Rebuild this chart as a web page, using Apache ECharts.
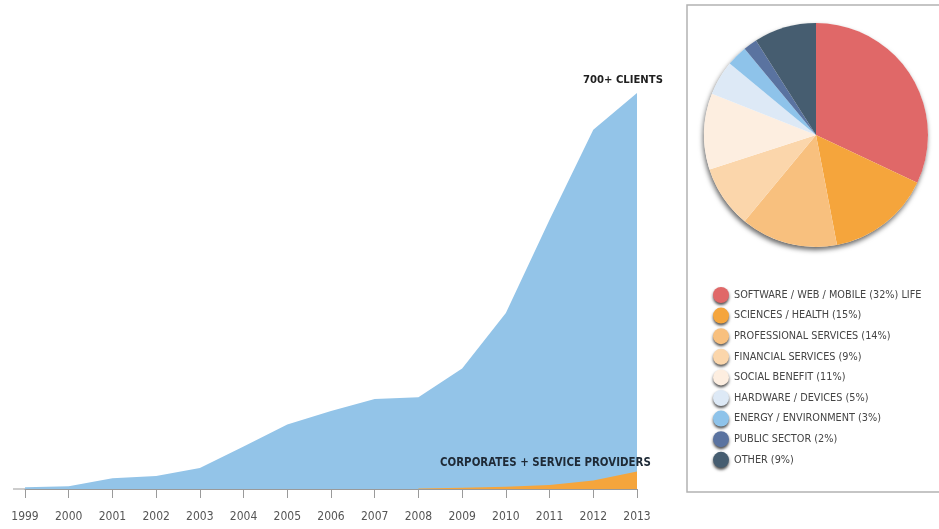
<!DOCTYPE html>
<html>
<head>
<meta charset="utf-8">
<title>Clients</title>
<script src="https://cdn.jsdelivr.net/npm/echarts@6/dist/echarts.min.js"></script>
<style>
  html, body { margin: 0; padding: 0; background: #fff; }
  #main { width: 939px; height: 529px; }
</style>
</head>
<body>
<div id="main"></div>
<script>
// years on the x axis
var years = ['1999', '2000', '2001', '2002', '2003', '2004', '2005', '2006',
  '2007', '2008', '2009', '2010', '2011', '2012', '2013'];
// all clients (blue area)
var clients = [3, 5, 19, 23, 37, 75, 114, 138, 159, 162, 213, 311, 476, 635, 700];
// corporates + service providers (orange area), starts in 2008
var corporates = [null, null, null, null, null, null, null, null, null, 1, 2, 4, 7, 15, 31];

// sectors in the pie
var sectors = [
  'SOFTWARE / WEB / MOBILE (32%) LIFE',
  'SCIENCES / HEALTH (15%)',
  'PROFESSIONAL SERVICES (14%)',
  'FINANCIAL SERVICES (9%)',
  'SOCIAL BENEFIT (11%)',
  'HARDWARE / DEVICES (5%)',
  'ENERGY / ENVIRONMENT (3%)',
  'PUBLIC SECTOR (2%)',
  'OTHER (9%)'
];
var shares = [32, 15, 14, 9, 11, 5, 3, 2, 9];
var sectorColors = ['#e06868', '#f5a53c', '#f8c07e', '#fbd6ab', '#fdeee0',
  '#dde9f6', '#8ec3ea', '#5a73a0', '#465d70'];

var narrow = '"DejaVu Sans Condensed", "Liberation Sans", sans-serif';

var chart = echarts.init(document.getElementById('main'), null, { renderer: 'canvas' });

var pieData = sectors.map(function (name, i) {
  return { name: name, value: shares[i], itemStyle: { color: sectorColors[i] } };
});

var option = {
  animation: false,
  backgroundColor: '#fff',
  grid: { left: 25, right: 302, top: 93, bottom: 40 },
  xAxis: {
    type: 'category',
    data: years,
    boundaryGap: false,
    axisLine: { lineStyle: { color: '#9a9a9a', width: 1 } },
    axisTick: { show: true, length: 9, alignWithLabel: true, lineStyle: { color: '#9a9a9a' } },
    axisLabel: { margin: 22, color: '#555', fontSize: 12, fontFamily: narrow }
  },
  yAxis: {
    type: 'value',
    min: 0,
    max: 700,
    show: false,
    splitLine: { show: false }
  },
  legend: {
    data: sectors,
    orient: 'vertical',
    left: 708,
    top: 282,
    icon: 'circle',
    itemWidth: 16,
    itemHeight: 16,
    itemGap: 4.6,
    selectedMode: false,
    itemStyle: {
      shadowBlur: 3,
      shadowOffsetY: 2,
      shadowColor: 'rgba(0,0,0,0.7)'
    },
    textStyle: {
      color: '#444',
      fontSize: 10.8,
      fontFamily: narrow
    }
  },
  graphic: [
    {
      type: 'rect',
      shape: { x: 687, y: 5, width: 270, height: 487 },
      style: { fill: 'none', stroke: '#b3b3b3', lineWidth: 1.5 },
      z: 0
    },
    {
      // short stub of the axis line to the left of 1999
      type: 'line',
      shape: { x1: 13, y1: 489, x2: 25, y2: 489 },
      style: { stroke: '#9a9a9a', lineWidth: 1 }
    },
    {
      type: 'text',
      left: 583,
      top: 75,
      style: {
        text: '700+ CLIENTS',
        fill: '#1f1f1f',
        font: 'bold 11.2px ' + narrow
      }
    },
    {
      type: 'text',
      left: 440,
      top: 458,
      z: 10,
      style: {
        text: 'CORPORATES + SERVICE PROVIDERS',
        fill: '#1f2a36',
        font: 'bold 11.4px ' + narrow
      }
    }
  ],
  series: [
    {
      name: 'Clients',
      type: 'line',
      data: clients,
      symbol: 'none',
      lineStyle: { width: 0 },
      areaStyle: { color: '#93c4e8', opacity: 1 },
      z: 2
    },
    {
      name: 'Corporates',
      type: 'line',
      data: corporates,
      symbol: 'none',
      lineStyle: { width: 0 },
      areaStyle: { color: '#f5a53c', opacity: 1 },
      z: 3
    },
    {
      // shadow disc behind the pie
      type: 'pie',
      silent: true,
      center: [816, 135],
      radius: [0, 112],
      label: { show: false },
      data: [{ name: 'shadow', value: 1 }],
      itemStyle: {
        color: '#fff',
        shadowBlur: 5,
        shadowOffsetX: -1,
        shadowOffsetY: 3,
        shadowColor: 'rgba(0,0,0,0.6)'
      },
      z: 1
    },
    {
      name: 'Sectors',
      type: 'pie',
      center: [816, 135],
      radius: [0, 112],
      startAngle: 90,
      clockwise: true,
      label: { show: false },
      labelLine: { show: false },
      itemStyle: { borderWidth: 0 },
      data: pieData,
      z: 2
    }
  ]
};

chart.setOption(option);
</script>
</body>
</html>
